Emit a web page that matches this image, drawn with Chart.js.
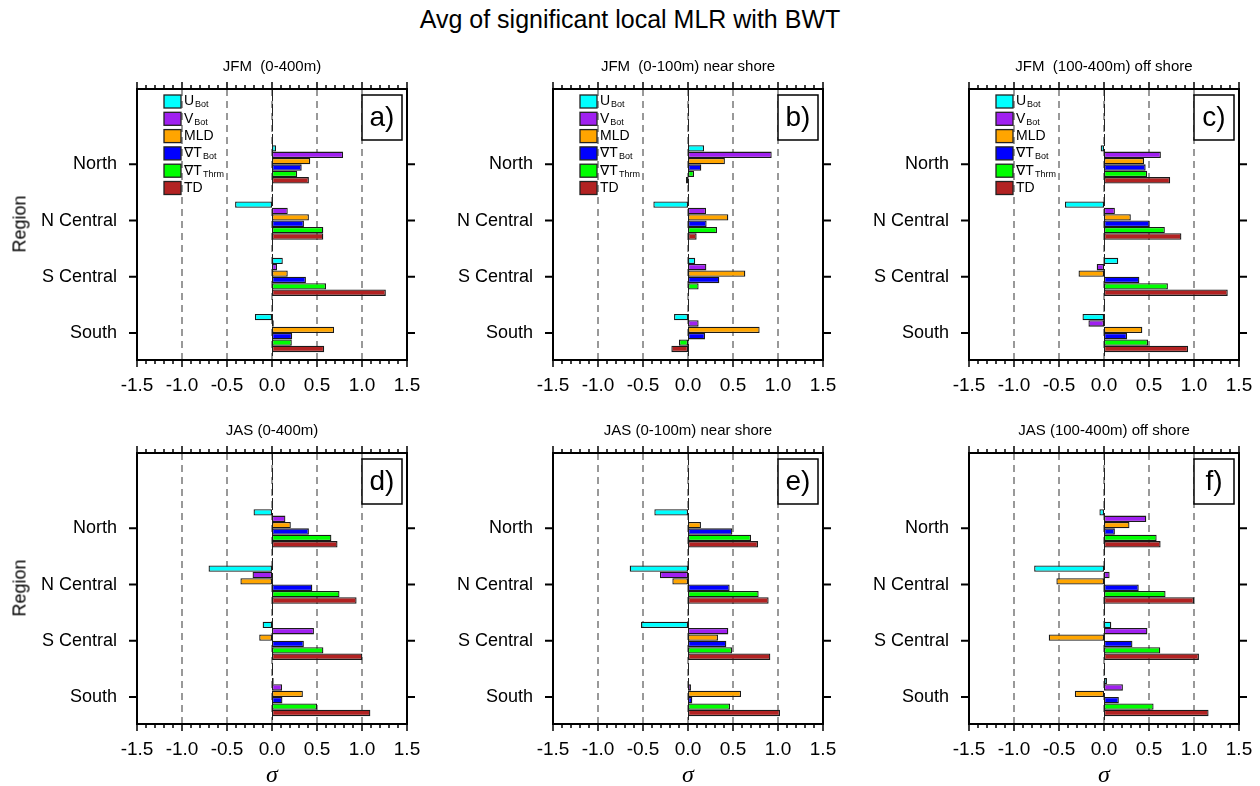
<!DOCTYPE html>
<html>
<head>
<meta charset="utf-8">
<script src="https://cdn.jsdelivr.net/npm/chart.js@4/dist/chart.umd.min.js"></script>
<style>
    body { margin: 0; background: #fff; width: 1260px; height: 786px; position: relative; overflow: hidden; font-family: "Liberation Sans", Arial, sans-serif; }
    .titulo { position: absolute; left: 0; width: 1260px; top: 5px; text-align: center; font-size: 25px; color: #000; }
    .panel-titulo { position: absolute; width: 270px; text-align: center; font-size: 15px; white-space: pre; color: #000; }
    .region { position: absolute; font-size: 18px; color: #000; transform: translate(-50%, -50%) rotate(-90deg); }
    .sigma { position: absolute; font-family: "Liberation Serif", "DejaVu Serif", serif; font-style: italic; font-size: 24px; transform: translate(-50%, -50%); }
    canvas { position: absolute; }
</style>
</head>
<body>
<div class="titulo">Avg of significant local MLR with BWT</div>

<script>
// Regiones (de arriba a abajo) y variables
const regiones = ['North', 'N Central', 'S Central', 'South'];
const variables = ['U_Bot', 'V_Bot', 'MLD', 'gradT_Bot', 'gradT_Thrm', 'TD'];
const colores = ['#00FFFF', '#A020F0', '#FFA500', '#0000FF', '#00FF00', '#B22222'];
const ticksX = [-1.5, -1.0, -0.5, 0.0, 0.5, 1.0, 1.5];

// Valores por panel: una fila por variable, columnas North, N Central, S Central, South
const jfmTodo = [
    [0.045, -0.41, 0.12, -0.19],
    [0.79, 0.175, 0.056, 0.02],
    [0.425, 0.41, 0.175, 0.69],
    [0.33, 0.355, 0.377, 0.224],
    [0.28, 0.57, 0.60, 0.22],
    [0.41, 0.57, 1.265, 0.58]
];
const jfmCosta = [
    [0.178, -0.385, 0.08, -0.155],
    [0.93, 0.2, 0.204, 0.118],
    [0.41, 0.448, 0.637, 0.796],
    [0.148, 0.207, 0.348, 0.19],
    [0.067, 0.322, 0.118, -0.1],
    [-0.022, 0.096, null, -0.185]
];
const jfmAfuera = [
    [-0.037, -0.434, 0.158, -0.239],
    [0.632, 0.121, -0.081, -0.173],
    [0.445, 0.298, -0.283, 0.426],
    [0.463, 0.507, 0.393, 0.257],
    [0.48, 0.676, 0.71, 0.489],
    [0.735, 0.86, 1.375, 0.934]
];
const jasTodo = [
    [-0.205, -0.705, -0.104, 0.019],
    [0.149, -0.216, 0.466, 0.112],
    [0.209, -0.351, -0.142, 0.343],
    [0.41, 0.448, 0.354, 0.116],
    [0.66, 0.75, 0.571, 0.5],
    [0.728, 0.94, 1.004, 1.093]
];
const jasCosta = [
    [-0.374, -0.648, -0.522, 0.007],
    [null, -0.311, 0.448, 0.033],
    [0.144, -0.174, 0.333, 0.589],
    [0.493, 0.463, 0.426, 0.048],
    [0.7, 0.785, 0.489, 0.467],
    [0.778, 0.896, 0.915, 1.022]
];
const jasAfuera = [
    [-0.051, -0.776, 0.081, 0.033],
    [0.47, 0.0625, 0.482, 0.21],
    [0.283, -0.529, -0.614, -0.324],
    [0.121, 0.386, 0.316, 0.165],
    [0.585, 0.684, 0.625, 0.551],
    [0.629, 1.0, 1.055, 1.162]
];

const paneles = [
    { datos: jfmTodo,   titulo: 'JFM  (0-400m)',             letra: 'a)', izq: 137, arriba: 89,  leyenda: true,  region: true },
    { datos: jfmCosta,  titulo: 'JFM  (0-100m) near shore',  letra: 'b)', izq: 553, arriba: 89,  leyenda: true,  region: false },
    { datos: jfmAfuera, titulo: 'JFM  (100-400m) off shore', letra: 'c)', izq: 969, arriba: 89,  leyenda: true,  region: false },
    { datos: jasTodo,   titulo: 'JAS (0-400m)',              letra: 'd)', izq: 137, arriba: 453, leyenda: false, region: true },
    { datos: jasCosta,  titulo: 'JAS (0-100m) near shore',   letra: 'e)', izq: 553, arriba: 453, leyenda: false, region: false },
    { datos: jasAfuera, titulo: 'JAS (100-400m) off shore',  letra: 'f)', izq: 969, arriba: 453, leyenda: false, region: false }
];

// margenes grandes para que el relleno de etiquetas no encoja el area
const ANCHO = 270, ALTO = 271, EJE_Y = 135, MARGEN_SUP = 36, EJE_X = 45, MARGEN_DER = 36;
const FUENTE = '"Liberation Sans", Arial, "DejaVu Sans", sans-serif';

// Plugin: rejilla punteada, marco, marcas de ejes, leyenda y letra del panel
const decoracion = {
    id: 'decoracion',
    beforeDatasetsDraw(chart) {
        const { ctx, chartArea: a, scales: { x } } = chart;
        ctx.save();
        [-1.0, -0.5, 0.0, 0.5, 1.0].forEach(v => {
            const px = Math.round(x.getPixelForValue(v));
            ctx.strokeStyle = '#999';
            ctx.lineWidth = 2;
            ctx.setLineDash([7, 5]);
            ctx.beginPath(); ctx.moveTo(px, a.top); ctx.lineTo(px, a.bottom); ctx.stroke();
            if (v === 0) {
                ctx.strokeStyle = '#222';
                ctx.lineWidth = 1;
                ctx.setLineDash([12, 3]);
                ctx.beginPath(); ctx.moveTo(px + 0.5, a.top); ctx.lineTo(px + 0.5, a.bottom); ctx.stroke();
            }
        });
        ctx.restore();
    },
    afterDraw(chart, args, opts) {
        const { ctx, chartArea: a, scales: { x, y } } = chart;
        ctx.save();
        ctx.strokeStyle = '#000';
        ctx.setLineDash([]);

        // marcas superiores e inferiores (mayores cada 0.5, menores cada 0.1)
        ctx.lineWidth = 1.5;
        for (let i = -15; i <= 15; i++) {
            const px = x.getPixelForValue(i / 10);
            const largo = (i % 5 === 0) ? 7 : 4;
            ctx.beginPath();
            ctx.moveTo(px, a.top); ctx.lineTo(px, a.top - largo);
            ctx.moveTo(px, a.bottom); ctx.lineTo(px, a.bottom + largo);
            ctx.stroke();
        }
        // marcas de regiones a izquierda y derecha
        ctx.lineWidth = 2;
        [1, 2, 3, 4].forEach(v => {
            const py = y.getPixelForValue(v);
            ctx.beginPath();
            ctx.moveTo(a.left, py); ctx.lineTo(a.left - 8, py);
            ctx.moveTo(a.right, py); ctx.lineTo(a.right + 8, py);
            ctx.stroke();
        });
        // marco
        ctx.lineWidth = 2;
        ctx.strokeRect(a.left, a.top, a.right - a.left, a.bottom - a.top);

        // letra del panel
        ctx.lineWidth = 1.5;
        ctx.fillStyle = '#fff';
        ctx.fillRect(a.left + 225, a.top + 6, 40, 45);
        ctx.strokeRect(a.left + 225, a.top + 6, 40, 45);
        ctx.fillStyle = '#000';
        ctx.font = '28px ' + FUENTE;
        ctx.textAlign = 'center';
        ctx.textBaseline = 'middle';
        ctx.fillText(opts.letra, a.left + 245, a.top + 29);

        // leyenda
        if (opts.leyenda) {
            const etiquetas = [['U', 'Bot'], ['V', 'Bot'], ['MLD', ''], ['∇T', 'Bot'], ['∇T', 'Thrm'], ['TD', '']];
            etiquetas.forEach(([base, sub], i) => {
                const top = a.top + 6 + i * 17.3;
                ctx.fillStyle = colores[i];
                ctx.fillRect(a.left + 27, top, 17, 13);
                ctx.lineWidth = 1.3;
                ctx.strokeStyle = '#222';
                ctx.strokeRect(a.left + 27, top, 17, 13);
                ctx.fillStyle = '#000';
                ctx.textAlign = 'left';
                ctx.textBaseline = 'middle';
                ctx.font = '14px ' + FUENTE;
                ctx.fillText(base, a.left + 47, top + 6.5);
                if (sub) {
                    const w = ctx.measureText(base).width;
                    ctx.font = '9px ' + FUENTE;
                    ctx.fillText(sub, a.left + 48 + w, top + 10);
                }
            });
        }
        ctx.restore();
    }
};

// Función para crear cada panel
function crearPanel(panel) {
    const canvas = document.createElement('canvas');
    canvas.width = EJE_Y + ANCHO + MARGEN_DER;
    canvas.height = MARGEN_SUP + ALTO + EJE_X;
    canvas.style.left = (panel.izq - EJE_Y) + 'px';
    canvas.style.top = (panel.arriba - MARGEN_SUP) + 'px';
    document.body.appendChild(canvas);

    const titulo = document.createElement('div');
    titulo.className = 'panel-titulo';
    titulo.textContent = panel.titulo;
    titulo.style.left = panel.izq + 'px';
    titulo.style.top = (panel.arriba - 32) + 'px';
    document.body.appendChild(titulo);

    if (panel.region) {
        const region = document.createElement('div');
        region.className = 'region';
        region.textContent = 'Region';
        region.style.left = '20px';
        region.style.top = (panel.arriba + 135) + 'px';
        document.body.appendChild(region);
    }
    if (panel.arriba > 300) {
        const sigma = document.createElement('div');
        sigma.className = 'sigma';
        sigma.textContent = 'σ';
        sigma.style.left = (panel.izq + ANCHO / 2) + 'px';
        sigma.style.top = '774px';
        document.body.appendChild(sigma);
    }

    const datasets = panel.datos.map((valores, k) => ({
        label: variables[k],
        data: valores.map((v, i) => ({ x: v, y: 4 - i })),
        backgroundColor: colores[k],
        borderColor: '#1a1a1a',
        borderWidth: 1.3,
        borderSkipped: false
    }));

    new Chart(canvas, {
        type: 'bar',
        data: { datasets: datasets },
        options: {
            indexAxis: 'y',
            responsive: false,
            animation: false,
            devicePixelRatio: 1,
            categoryPercentage: 0.68,
            barPercentage: 1.0,
            layout: { padding: { top: MARGEN_SUP, right: MARGEN_DER, left: 0, bottom: 0 } },
            plugins: {
                legend: { display: false },
                tooltip: { enabled: false },
                decoracion: { letra: panel.letra, leyenda: panel.leyenda }
            },
            scales: {
                x: {
                    type: 'linear',
                    position: 'bottom',
                    min: -1.5,
                    max: 1.5,
                    offset: false,
                    grid: { display: false, drawTicks: false },
                    border: { display: false },
                    afterBuildTicks: eje => { eje.ticks = ticksX.map(v => ({ value: v })); },
                    afterFit: eje => { eje.height = EJE_X; },
                    ticks: {
                        padding: 14,
                        color: '#000',
                        font: { size: 19, family: FUENTE },
                        callback: v => v.toFixed(1)
                    }
                },
                y: {
                    type: 'linear',
                    position: 'left',
                    min: 0.52,
                    max: 5.34,
                    offset: false,
                    grid: { display: false, drawTicks: false },
                    border: { display: false },
                    afterBuildTicks: eje => { eje.ticks = [4, 3, 2, 1].map(v => ({ value: v })); },
                    afterFit: eje => { eje.width = EJE_Y; },
                    ticks: {
                        padding: 20,
                        color: '#000',
                        font: { size: 18, family: FUENTE },
                        callback: v => regiones[4 - v]
                    }
                }
            }
        },
        plugins: [decoracion]
    });
}

paneles.forEach(crearPanel);
</script>
</body>
</html>
